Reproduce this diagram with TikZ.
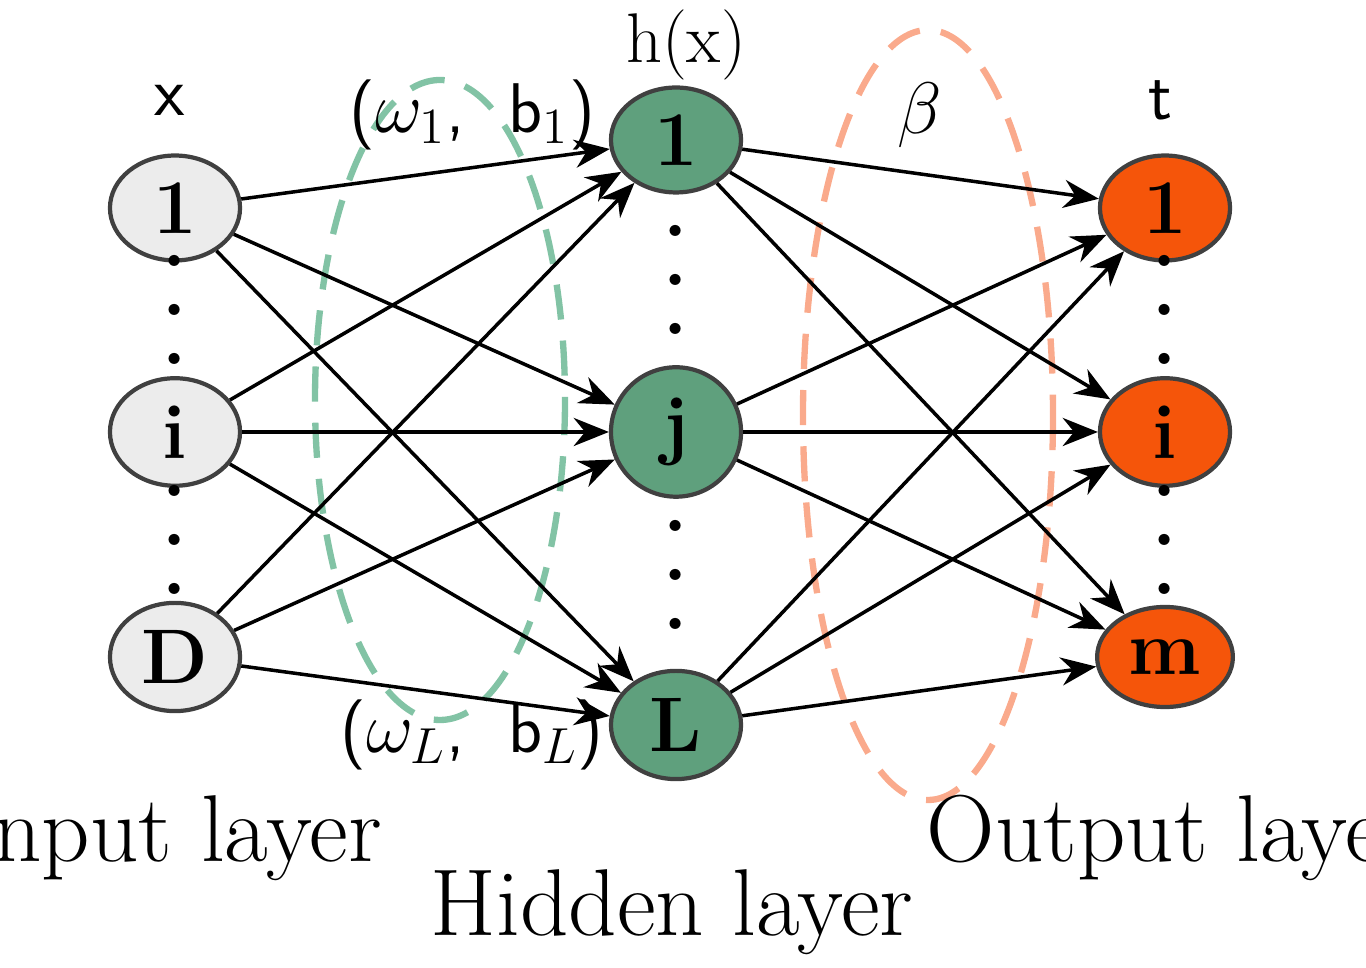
\documentclass[tikz,border=0pt]{standalone}
\usetikzlibrary{arrows.meta,shapes.geometric}
\begin{document}
\begin{tikzpicture}[x=0.01cm,y=-0.01cm,
  neu/.style={ellipse,draw=black!75,line width=1.2pt,minimum width=1.3cm,minimum height=1.0cm,font=\fontsize{22}{24}\selectfont\bfseries},
  inn/.style={neu,fill=gray!15},
  hid/.style={neu,fill={rgb,255:red,95;green,160;blue,125}},
  outn/.style={neu,fill={rgb,255:red,245;green,85;blue,10}},
  con/.style={-{Stealth[length=10pt,width=8pt]},line width=1pt},
  vd/.style={font=\fontsize{22}{24}\selectfont\bfseries},
  lab/.style={font=\fontsize{20}{22}\selectfont},
  big/.style={font=\fontsize{27}{30}\selectfont}]
\useasboundingbox (0,0) rectangle (1366,968);
\draw[line width=1.8pt,draw={rgb,255:red,130;green,195;blue,165},dash pattern=on 10pt off 6pt] (440,400) ellipse [x radius=125,y radius=320];
\draw[line width=1.8pt,draw={rgb,255:red,250;green,170;blue,140},dash pattern=on 10pt off 6pt] (928,415) ellipse [x radius=125,y radius=385];
\node[inn] (i1) at (175,208) {1};
\node[inn] (ii) at (175,432) {i};
\node[inn] (iD) at (175,657) {D};
\node[hid] (h1) at (676,140) {1};
\node[hid] (hj) at (676,432) {j};
\node[hid] (hL) at (676,725) {L};
\node[outn] (o1) at (1165,208) {1};
\node[outn] (oi) at (1165,432) {i};
\node[outn] (om) at (1165,657) {m};
\foreach \a in {i1,ii,iD}\foreach \b in {h1,hj,hL}\draw[con] (\a) -- (\b);
\foreach \a in {h1,hj,hL}\foreach \b in {o1,oi,om}\draw[con] (\a) -- (\b);
\foreach \p in {(175,310),(175,540),(1165,310),(1165,540),(676,280),(676,575)}
  \node[vd,align=center,inner sep=0pt] at \p {.\\[-10pt].\\[-10pt].};
\node[font=\sffamily\fontsize{20}{22}\selectfont] (lx) at (170,100) {x};
\node[lab] (lh) at (686,45) {h(x)};
\node[font=\sffamily\fontsize{20}{22}\selectfont] (lt) at (1160,100) {t};
\node[lab] (lb) at (920,115) {$\beta$};
\node[font=\sffamily\fontsize{20}{22}\selectfont] (lw1) at (472,115) {($\omega_1$,\ \ b$_1$)};
\node[font=\sffamily\fontsize{20}{22}\selectfont] (lwL) at (472,735) {($\omega_L$,\ \ b$_L$)};
\node[big] (tin) at (172,838) {Input layer};
\node[big] (thid) at (672,912) {Hidden layer};
\node[big] (tout) at (1172,838) {Output layer};
\end{tikzpicture}
\end{document}
